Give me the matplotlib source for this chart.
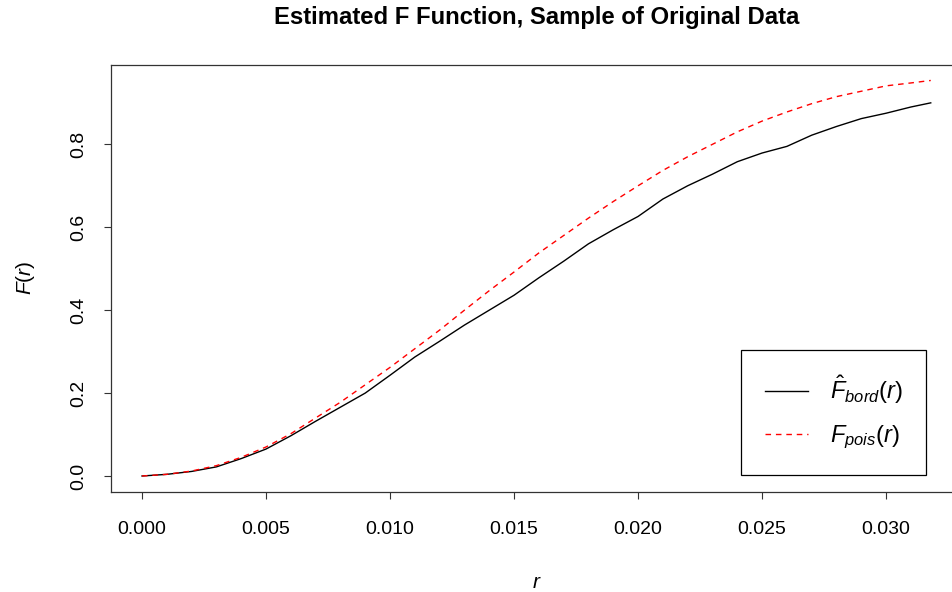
import numpy as np
import matplotlib
matplotlib.use("Agg")
import matplotlib.pyplot as plt

plt.rcParams["font.family"] = ["Liberation Sans", "DejaVu Sans"]
plt.rcParams["mathtext.fontset"] = "custom"
plt.rcParams["mathtext.rm"] = "Liberation Sans"
plt.rcParams["mathtext.it"] = "Liberation Sans:italic"
plt.rcParams["mathtext.bf"] = "Liberation Sans:bold"

# ---- data ----
r = [0.000, 0.001, 0.002, 0.003, 0.004, 0.005, 0.006, 0.007, 0.008, 0.009,
     0.010, 0.011, 0.012, 0.013, 0.014, 0.015, 0.016, 0.017, 0.018, 0.019,
     0.020, 0.021, 0.022, 0.023, 0.024, 0.025, 0.026, 0.027, 0.028, 0.029,
     0.030, 0.031, 0.0318]
f_bord = [0.000, 0.004, 0.011, 0.022, 0.042, 0.065, 0.097, 0.132, 0.166, 0.200,
          0.243, 0.287, 0.325, 0.364, 0.400, 0.436, 0.478, 0.518, 0.560, 0.594,
          0.626, 0.668, 0.700, 0.728, 0.758, 0.779, 0.795, 0.822, 0.843, 0.862,
          0.875, 0.890, 0.900]
f_pois = [0.000, 0.004, 0.012, 0.025, 0.045, 0.070, 0.102, 0.140, 0.178, 0.220,
          0.262, 0.307, 0.352, 0.400, 0.447, 0.492, 0.538, 0.580, 0.622, 0.662,
          0.700, 0.737, 0.770, 0.800, 0.830, 0.856, 0.878, 0.898, 0.915, 0.928,
          0.941, 0.948, 0.954]
xticks = [0.000, 0.005, 0.010, 0.015, 0.020, 0.025, 0.030]
yticks = [0.0, 0.2, 0.4, 0.6, 0.8]

W, H = 953, 592
fig = plt.figure(figsize=(W / 100, H / 100), dpi=100)
# plot region in pixels: left 111, right 962 (runs off the canvas), top 64.5, bottom 492
ax = fig.add_axes([111 / W, (H - 492) / H, (962 - 111) / W, (492 - 64.5) / H])

ax.plot(r, f_bord, color="black", lw=1.0, label=r"$\hat{F}_{bord}(r)$")
ax.plot(r, f_pois, color="red", lw=1.0, dashes=(4, 3.5), label=r"$F_{pois}(r)$")

ax.set_xlim(-0.00125, 0.03306)
ax.set_ylim(-0.0386, 0.9925)
ax.set_xticks(xticks)
ax.set_xticklabels([f"{v:.3f}" for v in xticks])
ax.set_yticks(yticks)
ax.set_yticklabels([f"{v:.1f}" for v in yticks], rotation=90, va="center")
ax.tick_params(direction="out", length=5, width=0.8, labelsize=14, color="#333333")
ax.tick_params(axis="x", pad=16)
ax.tick_params(axis="y", pad=12)
for s in ax.spines.values():
    s.set_linewidth(0.9)
    s.set_color("#333333")

ax.set_xlabel(r"$r$", fontsize=15, labelpad=25)
ax.set_ylabel(r"$F(r)$", fontsize=15, labelpad=24)
ax.set_title("Estimated F Function, Sample of Original Data",
             fontsize=17.2, fontweight="bold", pad=29)

leg = ax.legend(loc="lower right", bbox_to_anchor=(926 / W, (H - 475) / H),
                bbox_transform=fig.transFigure, fontsize=17, frameon=True,
                fancybox=False, edgecolor="black", framealpha=1,
                handlelength=1.85, handletextpad=0.9, borderpad=1.0,
                labelspacing=0.75, borderaxespad=0)
leg.get_frame().set_linewidth(0.9)

fig.savefig("out.png", dpi=100)
